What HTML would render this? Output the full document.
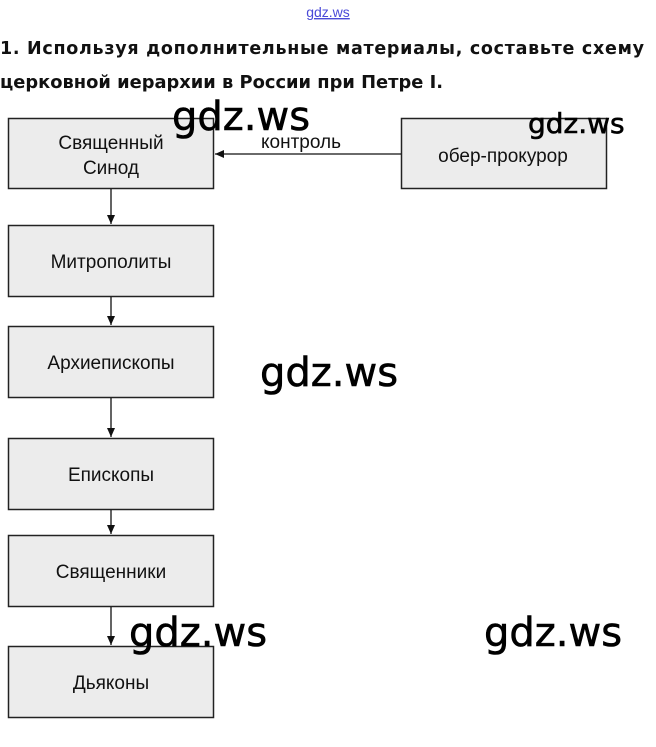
<!DOCTYPE html>
<html><head><meta charset="utf-8"><style>
html,body{margin:0;padding:0;background:#fff;width:656px;height:747px;overflow:hidden}
</style></head><body>
<svg width="656" height="747" viewBox="0 0 656 747" xmlns="http://www.w3.org/2000/svg" style="display:block">
<defs><marker id="ah" markerWidth="10" markerHeight="10" refX="9" refY="5" orient="auto" markerUnits="userSpaceOnUse"><path d="M0,1 L9,5 L0,9 Z" fill="#111"/></marker></defs>
<text x="328" y="17" font-family="Liberation Sans, sans-serif" font-size="14" fill="#4a4ad8" text-anchor="middle" text-decoration="underline">gdz.ws</text>
<g font-family="DejaVu Sans, sans-serif" font-weight="bold" font-size="17.5" fill="#111">
<text x="0" y="54" textLength="644" lengthAdjust="spacing">1.  Используя  дополнительные  материалы,  составьте  схему</text>
<text x="0" y="88" textLength="443" lengthAdjust="spacingAndGlyphs">церковной иерархии в России при Петре I.</text>
</g>
<g fill="#ececec" stroke="#222" stroke-width="1.5">
<rect x="8.5" y="118.5" width="205" height="70"/>
<rect x="401.5" y="118.5" width="205" height="70"/>
<rect x="8.5" y="225.5" width="205" height="71"/>
<rect x="8.5" y="326.5" width="205" height="71"/>
<rect x="8.5" y="438.5" width="205" height="71"/>
<rect x="8.5" y="535.5" width="205" height="71"/>
<rect x="8.5" y="646.5" width="205" height="71"/>
</g>
<g stroke="#111" stroke-width="1.3" marker-end="url(#ah)">
<line x1="401" y1="154" x2="215" y2="154"/>
<line x1="111" y1="189" x2="111" y2="224"/>
<line x1="111" y1="297" x2="111" y2="325"/>
<line x1="111" y1="398" x2="111" y2="437"/>
<line x1="111" y1="510" x2="111" y2="534"/>
<line x1="111" y1="607" x2="111" y2="645"/>
</g>
<g font-family="Liberation Sans, sans-serif" font-size="19" fill="#111" text-anchor="middle">
<text x="111" y="149">Священный</text>
<text x="111" y="174">Синод</text>
<text x="503" y="162">обер-прокурор</text>
<text x="301" y="148">контроль</text>
<text x="111" y="268">Митрополиты</text>
<text x="111" y="369">Архиепископы</text>
<text x="111" y="481">Епископы</text>
<text x="111" y="578">Священники</text>
<text x="111" y="689">Дьяконы</text>
</g>
<g font-family="DejaVu Sans, sans-serif" font-size="40" fill="#000" stroke="#000" stroke-width="0.6">
<text x="172" y="130">gdz.ws</text>
<text x="260" y="386">gdz.ws</text>
<text x="129" y="646">gdz.ws</text>
<text x="484" y="646">gdz.ws</text>
<text x="528" y="133" font-size="28">gdz.ws</text>
</g>
</svg>
</body></html>
